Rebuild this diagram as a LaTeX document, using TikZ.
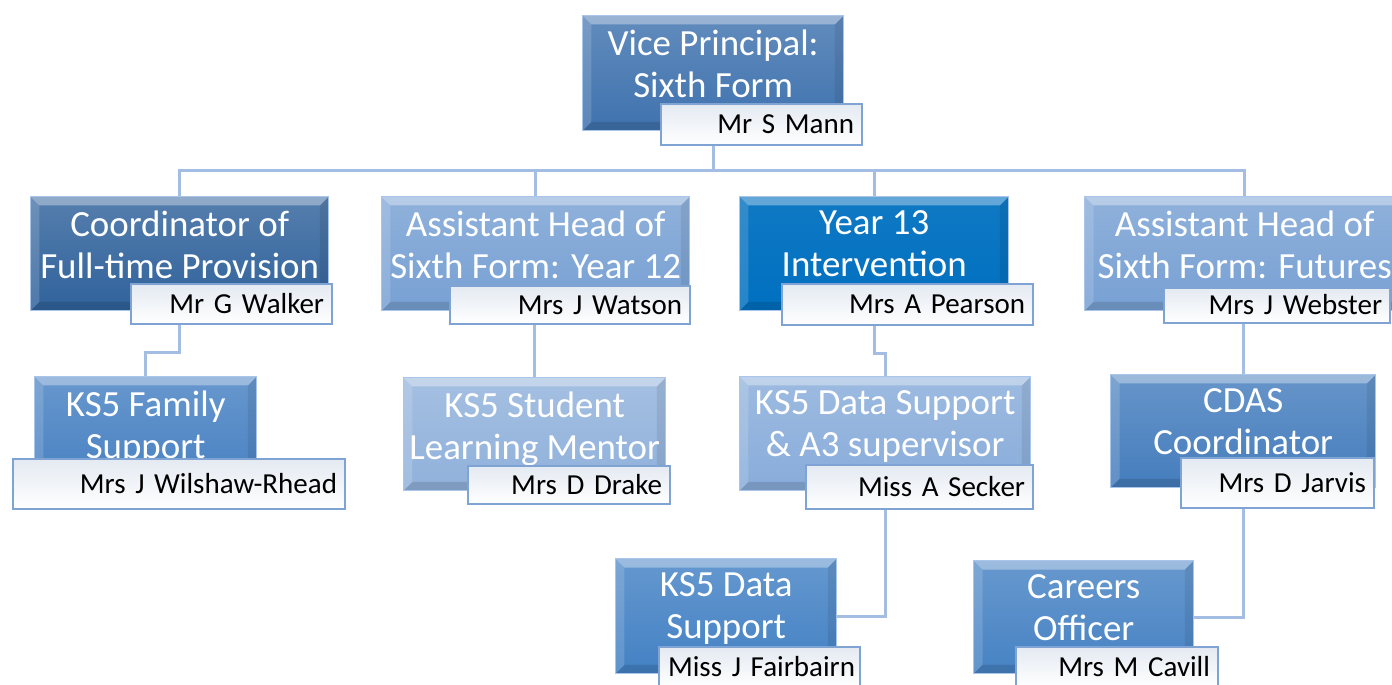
\documentclass[tikz,border=0pt]{standalone}
\usepackage{fontspec}
\setmainfont{Carlito}
\usetikzlibrary{positioning}

\definecolor{rimblue}{HTML}{A9C5E9}
\definecolor{nameblue}{HTML}{7FA3D3}
\definecolor{linkblue}{HTML}{A3BEE2}
\definecolor{paper}{HTML}{E4EAF2}
\definecolor{vpc}{HTML}{3F72AE}
\definecolor{coordc}{HTML}{30629B}
\definecolor{ahc}{HTML}{77A0D3}
\definecolor{yearc}{HTML}{0070C0}
\definecolor{famc}{HTML}{4680C2}
\definecolor{mentc}{HTML}{90B1DB}
\definecolor{datac}{HTML}{88ACDA}
\definecolor{cdasc}{HTML}{457DBD}
\definecolor{ksc}{HTML}{4381C4}
\definecolor{carc}{HTML}{4682C3}

\tikzset{
  bevel/.style={path picture={
    \coordinate (nw) at (path picture bounding box.north west);
    \coordinate (ne) at (path picture bounding box.north east);
    \coordinate (sw) at (path picture bounding box.south west);
    \coordinate (se) at (path picture bounding box.south east);
    \fill[white, opacity=.35] (nw) -- (ne) -- ([shift={(-5pt,-5pt)}]ne) -- ([shift={(5pt,-5pt)}]nw) -- cycle;
    \fill[white, opacity=.15] (nw) -- ([shift={(5pt,-5pt)}]nw) -- ([shift={(5pt,5pt)}]sw) -- (sw) -- cycle;
    \fill[black, opacity=.08] (ne) -- ([shift={(-5pt,-5pt)}]ne) -- ([shift={(-5pt,5pt)}]se) -- (se) -- cycle;
    \fill[black, opacity=.12] (sw) -- ([shift={(5pt,5pt)}]sw) -- ([shift={(-5pt,5pt)}]se) -- (se) -- cycle;
  }}
}

\begin{document}
\begin{tikzpicture}
  [x=0.02cm, y=-0.02cm,
   boxsize/.style 2 args={minimum width=#1*0.02cm, minimum height=#2*0.02cm},
   role/.style={rectangle, anchor=north west, inner sep=0pt, draw=rimblue, line width=0.8pt,
                top color=#1!82!white, bottom color=#1, bevel},
   title/.style={anchor=north, inner sep=0pt, yshift=-0.29cm, text=white, align=center,
                 font=\fontsize{21}{24}\selectfont, execute at begin node=\strut},
   person/.style={rectangle, anchor=north west, draw=nameblue, line width=1.2pt,
                  top color=paper, bottom color=white, inner xsep=0.16cm, inner ysep=0pt,
                  align=right, font=\fontsize{16.5}{20}\selectfont, text height=10.5pt, text depth=0pt},
   link/.style={draw=linkblue, line width=1.7pt}]

  \useasboundingbox (0,0) rectangle (1392,684);
  \clip (0,0) rectangle (1392,684);

  % top
  \node[role=vpc, boxsize={261}{115}] (vp) at (582,15) {};
  \node[title] (vpT) at (vp.north) {Vice Principal:\\Sixth Form};
  \node[person, boxsize={201}{41}, text width=3.70cm] (mann) at (660,103) {Mr S Mann};

  % second row
  \node[role=coordc, boxsize={298}{114}] (coord) at (30,196) {};
  \node[title] (coordT) at (coord.north) {Coordinator of\\Full-time Provision};
  \node[person, boxsize={201}{40}, text width=3.70cm] (walker) at (130,283) {Mr G Walker};

  \node[role=ahc, boxsize={308}{114}] (ah12) at (381,196) {};
  \node[title] (ah12T) at (ah12.north) {Assistant Head of\\Sixth Form: Year 12};
  \node[person, boxsize={240}{38}, text width=4.48cm] (watson) at (449,285) {Mrs J Watson};

  \node[role=yearc, top color=yearc!94!white, boxsize={269}{114}] (y13) at (739,196) {};
  \node[title] (y13T) at (y13.north) {Year 13\\Intervention};
  \node[person, boxsize={251}{41}, text width=4.70cm] (pearson) at (781,283) {Mrs A Pearson};

  \node[role=ahc, boxsize={320}{114}] (ahf) at (1084,196) {};
  \node[title] (ahfT) at (ahf.north) {Assistant Head of\\Sixth Form: Futures};
  \node[person, boxsize={226}{35}, text width=4.20cm] (webster) at (1163,287) {Mrs J Webster};

  % third row
  \node[role=famc, boxsize={222}{114}] (fam) at (34,376) {};
  \node[title] (famT) at (fam.north) {KS5 Family\\Support};
  \node[person, boxsize={332}{50}, text width=6.32cm] (wilshaw) at (12,458) {Mrs J Wilshaw-Rhead};

  \node[role=mentc, boxsize={262}{113}] (mentor) at (403,377) {};
  \node[title] (mentorT) at (mentor.north) {KS5 Student\\Learning Mentor};
  \node[person, boxsize={202}{38}, text width=3.72cm] (drake) at (467,465) {Mrs D Drake};

  \node[role=datac, boxsize={291}{114}] (data) at (739,376) {};
  \node[title] (dataT) at (data.north) {KS5 Data Support\\\& A3 supervisor};
  \node[person, boxsize={227}{44}, text width=4.22cm] (secker) at (805,464) {Miss A Secker};

  \node[role=cdasc, boxsize={265}{113}] (cdas) at (1110,374) {};
  \node[title] (cdasT) at (cdas.north) {CDAS\\Coordinator};
  \node[person, boxsize={193}{50}, text width=3.54cm] (jarvis) at (1180,457) {Mrs D Jarvis};

  % fourth row
  \node[role=ksc, boxsize={221}{115}] (ksdata) at (615,558) {};
  \node[title] (ksdataT) at (ksdata.north) {KS5 Data\\Support};
  \node[person, boxsize={201}{40}, inner xsep=0.1cm, text width=3.82cm] (fairbairn) at (658,646) {Miss J Fairbairn};

  \node[role=carc, boxsize={220}{113}] (careers) at (973,560) {};
  \node[title] (careersT) at (careers.north) {Careers\\Officer};
  \node[person, boxsize={202}{40}, text width=3.72cm] (cavill) at (1015,646) {Mrs M Cavill};

  % connectors
  \coordinate (bus) at (0,170);
  \draw[link] (mann.south -| vp.center) -- (vp.center |- bus);
  \draw[link] (coord.north) |- (vp.center |- bus) -| (ahf.north);
  \draw[link] (ah12.north) -- (ah12.north |- bus);
  \draw[link] (y13.north) -- (y13.north |- bus);

  \draw[link] (walker.south -| coord.center) -- ++(0,27) -| (fam.north);
  \draw[link] (mentor.north |- watson.south) -- (mentor.north);
  \draw[link] (pearson.south -| y13.center) -- ++(0,27) -| (data.north);
  \draw[link] (cdas.north |- webster.south) -- (cdas.north);

  \draw[link] (secker.south -| data.center) |- (ksdata.east);
  \draw[link] (jarvis.south -| cdas.center) |- (careers.east);
\end{tikzpicture}
\end{document}
